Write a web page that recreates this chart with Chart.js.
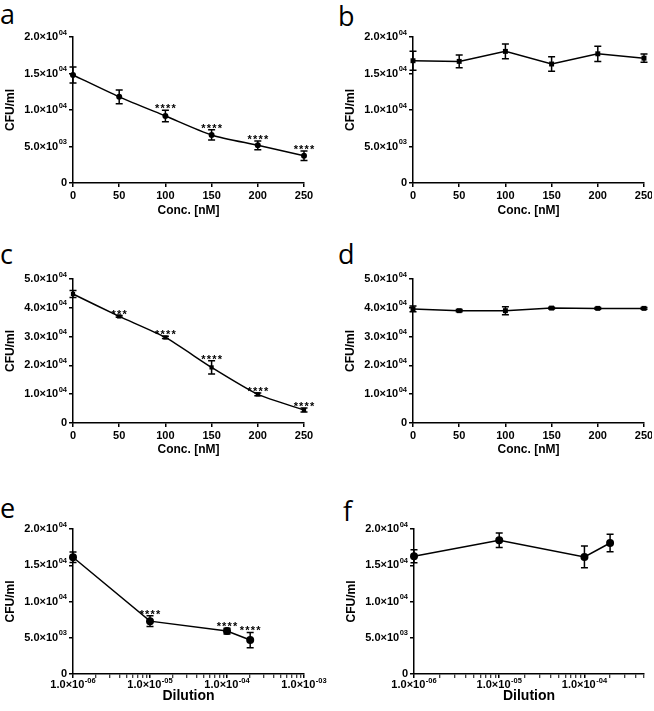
<!DOCTYPE html>
<html>
<head>
<meta charset="utf-8">
<script src="https://cdn.jsdelivr.net/npm/chart.js@4.4.1/dist/chart.umd.min.js"></script>
<style>
  body { margin: 0; background: #fff; width: 654px; height: 711px; position: relative; overflow: hidden; }
  canvas { position: absolute; }
  .lbl { position: absolute; font-family: "Open Sans", sans-serif; font-size: 27px; line-height: 27px; color: #000; }
</style>
</head>
<body>
<div class="lbl" style="left:0px;top:0px">a</div>
<div class="lbl" style="left:338px;top:2px">b</div>
<div class="lbl" style="left:0px;top:240px">c</div>
<div class="lbl" style="left:338px;top:240px">d</div>
<div class="lbl" style="left:0px;top:494px">e</div>
<div class="lbl" style="left:343px;top:497px">f</div>

<canvas id="pa" width="320" height="197" style="left:0px;top:25px"></canvas>
<canvas id="pb" width="312" height="197" style="left:340px;top:25px"></canvas>
<canvas id="pc" width="320" height="194" style="left:0px;top:267px"></canvas>
<canvas id="pd" width="312" height="194" style="left:340px;top:267px"></canvas>
<canvas id="pe" width="340" height="192" style="left:0px;top:517px"></canvas>
<canvas id="pf" width="311" height="192" style="left:341px;top:517px"></canvas>

<script>
const concNM = [0, 50, 100, 150, 200, 250];

const cfuA = [14800, 11800, 9180, 6580, 5160, 3740];
const errA = [1100, 950, 800, 700, 600, 650];
const starsA = ["", "", "****", "****", "****", "****"];

const cfuB = [16750, 16660, 18030, 16300, 17700, 17100];
const errB = [1300, 870, 1000, 1000, 1050, 570];

const cfuC = [44800, 37000, 29700, 19300, 9950, 4500];
const errC = [1200, 300, 400, 2300, 500, 700];
const starsC = ["", "***", "****", "****", "****", "****"];

const cfuD = [39600, 39000, 39000, 39900, 39800, 39800];
const errD = [1000, 400, 1400, 300, 300, 300];

const dilution = [1e-6, 1e-5, 1e-4, 2e-4];

const cfuE = [16100, 7290, 5920, 4680];
const errE = [730, 750, 400, 1050];
const starsE = ["", "****", "****", "****"];

const cfuF = [16240, 18440, 16150, 18070];
const errF = [900, 1000, 1500, 1200];

// tick labels ("^" marks the superscript part)
const yTicks20k = [0, 5000, 10000, 15000, 20000];
const yLabels20k = ["0", "5.0×10^03", "1.0×10^04", "1.5×10^04", "2.0×10^04"];
const yTicks50k = [0, 10000, 20000, 30000, 40000, 50000];
const yLabels50k = ["0", "1.0×10^04", "2.0×10^04", "3.0×10^04", "4.0×10^04", "5.0×10^04"];
const concTicks = [0, 50, 100, 150, 200, 250];
const dilutionMajor = [1e-6, 1e-5, 1e-4, 1e-3];
const dilutionLabels = ["1.0×10^-06", "1.0×10^-05", "1.0×10^-04", "1.0×10^-03"];

const FONT = "'Liberation Sans', Arial, sans-serif";

const errorBars = {
  id: "errorBars",
  afterDatasetsDraw(chart) {
    const { ctx } = chart;
    const x = chart.scales.x, y = chart.scales.y;
    chart.data.datasets.forEach((ds) => {
      ds.data.forEach((p, i) => {
        const px = x.getPixelForValue(p.x);
        const top = y.getPixelForValue(p.y + ds.errors[i]);
        const bot = y.getPixelForValue(p.y - ds.errors[i]);
        ctx.save();
        ctx.strokeStyle = "#000";
        ctx.lineWidth = 1.5;
        ctx.beginPath();
        ctx.moveTo(px, top); ctx.lineTo(px, bot);
        ctx.moveTo(px - 3.5, top); ctx.lineTo(px + 3.5, top);
        ctx.moveTo(px - 3.5, bot); ctx.lineTo(px + 3.5, bot);
        ctx.stroke();
        if (ds.stars && ds.stars[i]) {
          ctx.fillStyle = "#000";
          ctx.font = "bold 11px " + FONT;
          ctx.letterSpacing = "1.2px";
          ctx.textAlign = "center";
          ctx.textBaseline = "alphabetic";
          ctx.fillText(ds.stars[i], px + 0.6, top + 2);
        }
        ctx.restore();
      });
    });
  }
};

// draws "mantissa×10" with a small raised exponent
function drawSci(ctx, text, x, y, align) {
  const parts = text.split("^");
  ctx.font = "bold 11px " + FONT;
  const wb = ctx.measureText(parts[0]).width;
  let we = 0;
  if (parts[1]) { ctx.font = "bold 7.5px " + FONT; we = ctx.measureText(parts[1]).width + 0.5; }
  const total = wb + we;
  let start = align === "right" ? x - total : x - total / 2;
  ctx.textAlign = "left";
  ctx.textBaseline = "middle";
  ctx.font = "bold 11px " + FONT;
  ctx.fillText(parts[0], start, y);
  if (parts[1]) {
    ctx.font = "bold 7.5px " + FONT;
    ctx.fillText(parts[1], start + wb + 0.5, y - 4.5);
  }
}

function sciLabels(yTicks, yLabels, logX) {
  return {
    id: "sciLabels",
    afterDraw(chart) {
      const { ctx } = chart;
      const x = chart.scales.x, y = chart.scales.y;
      ctx.save();
      ctx.fillStyle = "#000";
      yTicks.forEach((v, i) => {
        drawSci(ctx, yLabels[i], y.right - 6, y.getPixelForValue(v), "right");
      });
      if (logX) {
        dilutionMajor.forEach((v, i) => {
          if (v <= x.max * 1.000001) drawSci(ctx, dilutionLabels[i], x.getPixelForValue(v), x.top + 11, "center");
        });
      }
      ctx.restore();
    }
  };
}

function axisBase() {
  return {
    grid: { display: true, drawOnChartArea: false, drawTicks: true, tickLength: 4, color: "#000", lineWidth: 1.5, tickWidth: 1.5 },
    border: { display: true, color: "#000", width: 1.5 },
  };
}

function makePanel(id, o) {
  const xs = o.xValues;
  const x = Object.assign(axisBase(), {
    type: o.log ? "logarithmic" : "linear",
    min: o.xMin, max: o.xMax,
    afterFit: (s) => { s.height = o.xH; s.paddingLeft = 0; s.paddingRight = 0; },
    title: { display: true, text: o.xTitle, color: "#000", font: { family: FONT, weight: "bold", size: o.xTitleSize }, padding: { top: 0, bottom: 4 } },
    ticks: { display: !o.log, color: "#000", font: { family: FONT, weight: "bold", size: 11 }, padding: 2, autoSkip: false, maxRotation: 0, minRotation: 0 },
  });
  if (o.log) {
    x.afterBuildTicks = (s) => {
      const t = [];
      dilutionMajor.forEach((d) => {
        for (let m = 1; m <= 9; m++) {
          const v = m * d;
          if (v >= o.xMin * 0.999999 && v <= o.xMax * 1.000001) t.push({ value: v, major: m === 1 });
        }
      });
      s.ticks = t;
    };
    x.grid.tickWidth = (c) => (c.tick && c.tick.major ? 1.5 : 1);
  } else {
    x.afterBuildTicks = (s) => { s.ticks = concTicks.map((v) => ({ value: v })); };
  }

  const y = Object.assign(axisBase(), {
    min: 0, max: o.yMax,
    afterFit: (s) => { s.width = o.yW; s.paddingTop = 0; s.paddingBottom = 0; },
    afterBuildTicks: (s) => { s.ticks = o.yTicks.map((v) => ({ value: v })); },
    title: { display: true, text: "CFU/ml", color: "#000", font: { family: FONT, weight: "bold", size: 12 }, padding: { top: 3, bottom: 0 } },
    ticks: { display: false },
  });

  return new Chart(document.getElementById(id), {
    type: "line",
    data: {
      datasets: [{
        data: xs.map((v, i) => ({ x: v, y: o.values[i] })),
        errors: o.errors,
        stars: o.stars,
        borderColor: "#000",
        backgroundColor: "#000",
        borderWidth: 1.5,
        pointStyle: o.marker,
        pointRadius: o.radius,
        pointBorderWidth: 0,
        tension: o.tension || 0,
        clip: false,
      }],
    },
    options: {
      responsive: false,
      animation: false,
      devicePixelRatio: 1,
      layout: { padding: { top: o.padTop, right: o.padRight, left: 0, bottom: 0 } },
      plugins: { legend: { display: false }, tooltip: { enabled: false } },
      scales: { x: x, y: y },
    },
    plugins: [errorBars, sciLabels(o.yTicks, o.yLabels, o.log)],
  });
}

makePanel("pa", { xValues: concNM, values: cfuA, errors: errA, stars: starsA, marker: "circle", radius: 3, tension: 0.25,
  xMin: 0, xMax: 250, xTitle: "Conc. [nM]", xTitleSize: 12, yMax: 20000, yTicks: yTicks20k, yLabels: yLabels20k,
  yW: 73, xH: 39, padTop: 12, padRight: 16 });
makePanel("pb", { xValues: concNM, values: cfuB, errors: errB, marker: "rect", radius: 3.5,
  xMin: 0, xMax: 250, xTitle: "Conc. [nM]", xTitleSize: 12, yMax: 20000, yTicks: yTicks20k, yLabels: yLabels20k,
  yW: 73, xH: 39, padTop: 12, padRight: 8 });
makePanel("pc", { xValues: concNM, values: cfuC, errors: errC, stars: starsC, marker: "rect", radius: 3, tension: 0.2,
  xMin: 0, xMax: 250, xTitle: "Conc. [nM]", xTitleSize: 12, yMax: 50000, yTicks: yTicks50k, yLabels: yLabels50k,
  yW: 73, xH: 38, padTop: 12, padRight: 16 });
makePanel("pd", { xValues: concNM, values: cfuD, errors: errD, marker: "rect", radius: 3.5,
  xMin: 0, xMax: 250, xTitle: "Conc. [nM]", xTitleSize: 12, yMax: 50000, yTicks: yTicks50k, yLabels: yLabels50k,
  yW: 73, xH: 38, padTop: 12, padRight: 8 });
makePanel("pe", { xValues: dilution, values: cfuE, errors: errE, stars: starsE, marker: "circle", radius: 4, log: true,
  xMin: 1e-6, xMax: 1e-3, xTitle: "Dilution", xTitleSize: 14, yMax: 20000, yTicks: yTicks20k, yLabels: yLabels20k,
  yW: 73, xH: 35, padTop: 12, padRight: 36 });
makePanel("pf", { xValues: dilution, values: cfuF, errors: errF, marker: "circle", radius: 4, log: true,
  xMin: 1e-6, xMax: 5e-4, xTitle: "Dilution", xTitleSize: 14, yMax: 20000, yTicks: yTicks20k, yLabels: yLabels20k,
  yW: 73, xH: 35, padTop: 12, padRight: 8 });
</script>
</body>
</html>
